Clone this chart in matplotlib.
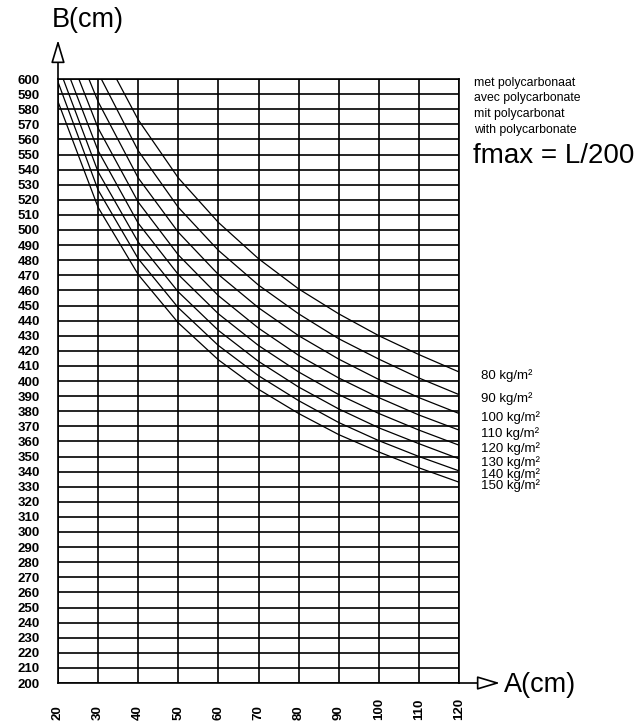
import matplotlib
matplotlib.use("Agg")
import matplotlib.pyplot as plt

plt.rcParams['font.family'] = ['Liberation Sans', 'DejaVu Sans']

# load classes (kg/m2) and curve readings B(cm) at A(cm)
loads = [80, 90, 100, 110, 120, 130, 140, 150]
load_labels = ['80 kg/m²', '90 kg/m²', '100 kg/m²', '110 kg/m²',
               '120 kg/m²', '130 kg/m²', '140 kg/m²', '150 kg/m²']

a_80 = [34.6, 40, 50, 60, 70, 80, 90, 100, 110, 120]
b_80 = [600, 573, 534.5, 505, 481, 461, 444.5, 430, 417.5, 406]
a_90 = [30.8, 40, 50, 60, 70, 80, 90, 100, 110, 120]
b_90 = [600, 552.5, 515, 486.5, 463.5, 444.5, 428, 414.5, 402, 391]
a_100 = [27.7, 30, 40, 50, 60, 70, 80, 90, 100, 110, 120]
b_100 = [600, 585, 534.5, 498.5, 470.5, 448.5, 430, 414.5, 401, 389, 378.5]
a_110 = [25.2, 30, 40, 50, 60, 70, 80, 90, 100, 110, 120]
b_110 = [600, 567.5, 518.5, 483.5, 456.5, 435, 417, 402, 389, 377.5, 367.5]
a_120 = [23.1, 30, 40, 50, 60, 70, 80, 90, 100, 110, 120]
b_120 = [600, 552.5, 504.5, 470.5, 444.5, 423.5, 406, 391, 378.5, 367.5, 357.5]
a_130 = [21.3, 30, 40, 50, 60, 70, 80, 90, 100, 110, 120]
b_130 = [600, 538.5, 492, 459, 433.5, 413, 396, 381.5, 369, 358.5, 348.5]
a_140 = [20, 30, 40, 50, 60, 70, 80, 90, 100, 110, 120]
b_140 = [598, 526.5, 481, 448.5, 423.5, 403.5, 387, 372.5, 360.5, 350, 340.5]
a_150 = [20, 30, 40, 50, 60, 70, 80, 90, 100, 110, 120]
b_150 = [585, 515, 470.5, 438.5, 414, 394.5, 378.5, 364.5, 353, 342.5, 333]

curves_a = [a_80, a_90, a_100, a_110, a_120, a_130, a_140, a_150]
curves_b = [b_80, b_90, b_100, b_110, b_120, b_130, b_140, b_150]

x_ticks = list(range(20, 121, 10))
y_ticks = list(range(200, 601, 10))

notes = ['met polycarbonaat', 'avec polycarbonate', 'mit polycarbonat', 'with polycarbonate']
formula = 'fmax = L/200'

W, H = 640, 726
fig = plt.figure(figsize=(W / 100, H / 100), dpi=100)
left, right, top, bottom = 58, 459, 79, 683
ax = fig.add_axes([left / W, 1 - bottom / H, (right - left) / W, (bottom - top) / H])

ax.set_xlim(20, 120)
ax.set_ylim(200, 600)
for x in x_ticks:
    ax.axvline(x, color='black', lw=1.2, zorder=1)
for y in y_ticks:
    ax.axhline(y, color='black', lw=1.2, zorder=1)
for s in ax.spines.values():
    s.set_linewidth(1.2)

for xa, yb in zip(curves_a, curves_b):
    ax.plot(xa, yb, color='black', lw=0.9, zorder=2)

ax.set_xticks(x_ticks)
ax.set_xticklabels([str(v) for v in x_ticks], rotation=90, va='bottom',
                   fontsize=9.5, fontweight='bold')
ax.set_yticks(y_ticks)
ax.set_yticklabels([str(v) for v in y_ticks], fontsize=9.5, fontweight='bold')
ax.tick_params(axis='x', length=0, pad=27)
ax.tick_params(axis='y', length=0, pad=13)

# load labels at right end of curves
for yb, lab in zip(curves_b, load_labels):
    ax.text(125.5, yb[-1] - 2.5, lab, fontsize=9.5, va='center', ha='left', clip_on=False)

# axis arrows (hollow heads)
arrow = dict(arrowstyle='-|>,head_length=1.0,head_width=0.3', fc='white', ec='black',
             lw=1.2, mutation_scale=14, shrinkA=0, shrinkB=0)
ax.annotate('', xy=(0, 1 + 39 / 604), xytext=(0, 1), xycoords='axes fraction',
            textcoords='axes fraction', arrowprops=arrow, annotation_clip=False)
ax.annotate('', xy=(1 + 41 / 401, 0), xytext=(1, 0), xycoords='axes fraction',
            textcoords='axes fraction', arrowprops=arrow, annotation_clip=False)

fig.text(52 / W, 1 - 20 / H, 'B(cm)', fontsize=19.5, va='center', ha='left')
fig.text(504 / W, 1 - 685 / H, 'A(cm)', fontsize=19.5, va='center', ha='left')

for i, t in enumerate(notes):
    fig.text(474 / W, 1 - (83 + 15.5 * i) / H, t, fontsize=8.8, va='center', ha='left')
fig.text(473 / W, 1 - 156 / H, formula, fontsize=20, va='center', ha='left')

fig.savefig('out.png', dpi=100)
